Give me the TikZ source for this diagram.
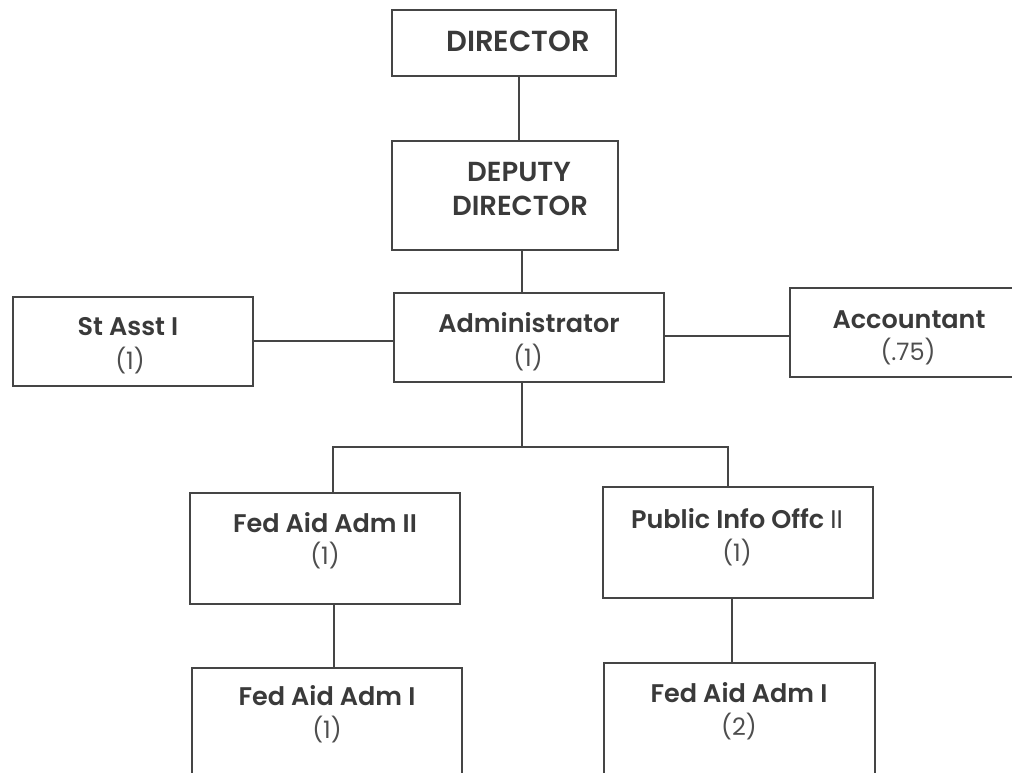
\documentclass[tikz,border=0pt]{standalone}
\usepackage{fontspec}
\setmainfont{Poppins}[BoldFont={Poppins SemiBold}]
\definecolor{ink}{HTML}{3A3A3A}
\definecolor{edge}{HTML}{454545}
\begin{document}
\begin{tikzpicture}[x=1pt,y=-1pt,
  box/.style={draw=edge,line width=1.6pt,fill=none,inner sep=0pt,outer sep=0pt},
  ttl/.style={anchor=base,inner sep=0pt,text=ink,font=\fontsize{25.5}{30}\selectfont\bfseries},
  big/.style={ttl,font=\fontsize{29}{34}\selectfont\bfseries},
  mid/.style={ttl,font=\fontsize{27.5}{32}\selectfont\bfseries},
  num/.style={anchor=base,inner sep=0pt,text=ink!90,font=\fontsize{24}{28}\selectfont},
  link/.style={draw=edge,line width=1.4pt}]
\useasboundingbox[fill=white] (0,0) rectangle (1012,773);
% boxes
\node[box] (dir) at (504,43) [minimum width=224pt,minimum height=66pt] {};
\node[box] (dep) at (505,195.5) [minimum width=226pt,minimum height=109pt] {};
\node[box] (adm) at (529,337.5) [minimum width=270pt,minimum height=89pt] {};
\node[box] (st) at (133,341.5) [minimum width=240pt,minimum height=89pt] {};
\node[box] (acc) at (905,332.5) [minimum width=230pt,minimum height=89pt] {};
\node[box] (fa2) at (325,548.5) [minimum width=270pt,minimum height=111pt] {};
\node[box] (pio) at (738,542.5) [minimum width=270pt,minimum height=111pt] {};
\node[box] (fa1) at (327,724) [minimum width=270pt,minimum height=112pt] {};
\node[box] (fb1) at (739.5,719) [minimum width=271pt,minimum height=112pt] {};
% texts
\node[big] (tdir) at (518,52) {DIRECTOR};
\node[mid] (tdep1) at (519,182) {DEPUTY};
\node[mid] (tdep2) at (520,215) {DIRECTOR};
\node[ttl] (tst) at (128,335) {St Asst I};
\node[num] (nst) at (130,369) {(1)};
\node[ttl] (tadm) at (529,332) {Administrator};
\node[num] (nadm) at (528,366) {(1)};
\node[ttl] (tacc) at (909,328) {Accountant};
\node[num] (nacc) at (908,360) {(.75)};
\node[ttl] (tfa2) at (325,532) {Fed Aid Adm II};
\node[num] (nfa2) at (325,564) {(1)};
\node[ttl] (tpio) at (737,528) {Public Info Offc {\mdseries II}};
\node[num] (npio) at (737,561) {(1)};
\node[ttl] (tfa1) at (327,705) {Fed Aid Adm I};
\node[num] (nfa1) at (327,738) {(1)};
\node[ttl] (tfb1) at (739,702) {Fed Aid Adm I};
\node[num] (nfb1) at (739,735) {(2)};
% connectors
\coordinate (busL) at (333,447);
\coordinate (busM) at (522,447);
\coordinate (busR) at (728,447);
\draw[link] (dir.south -| 519,0) -- (dep.north -| 519,0);
\draw[link] (dep.south -| 522,0) -- (adm.north -| 522,0);
\draw[link] (st.east |- 0,341) -- (adm.west |- 0,341);
\draw[link] (adm.east |- 0,336) -- (acc.west |- 0,336);
\draw[link] (adm.south -| busM) -- (busM);
\draw[link] (fa2.north -| busL) -- (busL) -- (busR) -- (pio.north -| busR);
\draw[link] (fa2.south -| 334,0) -- (fa1.north -| 334,0);
\draw[link] (pio.south -| 732,0) -- (fb1.north -| 732,0);
\end{tikzpicture}
\end{document}
